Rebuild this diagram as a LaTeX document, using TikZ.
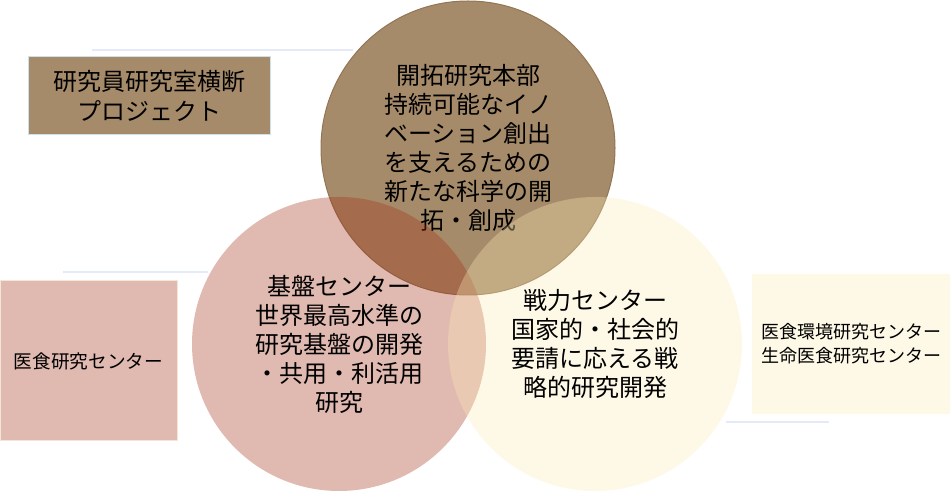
\documentclass[tikz,border=0pt]{standalone}
\usepackage{fontspec}
\setmainfont{Noto Sans CJK JP}
\usepackage{tikz}

\definecolor{honbu}{RGB}{166,139,106}
\definecolor{honbuline}{RGB}{146,118,84}
\definecolor{kiban}{RGB}{161,43,16}
\definecolor{senryaku}{RGB}{252,234,182}
\definecolor{kibanbox}{RGB}{224,185,176}
\definecolor{senryakubox}{RGB}{254,248,231}
\definecolor{paleblue}{RGB}{228,234,248}
\definecolor{boxline}{RGB}{205,225,235}

\begin{document}
\begin{tikzpicture}[x=0.75pt,y=0.75pt,yscale=-1,xscale=1,
    venn/.style={circle,inner sep=0pt,minimum size=220.5pt,align=center,text=black,text opacity=1,
        font=\fontsize{18}{21.75}\selectfont},
    unitbox/.style={rectangle,inner sep=0pt,align=center,text=black},
    trace/.style={draw=paleblue,line width=1.5pt}]
                %set diagram to 950 x 491
                \useasboundingbox (0,0) rectangle (950,491);

                %Straight Lines
                \coordinate (t1) at (92,50);
                \coordinate (t2) at (353,50);
                \draw [trace] (t1) -- (t2);
                %Straight Lines
                \coordinate (l1) at (63,272);
                \coordinate (l2) at (208,272);
                \draw [trace] (l1) -- (l2);
                %Straight Lines
                \coordinate (r1) at (726,422);
                \coordinate (r2) at (829,422);
                \draw [trace] (r1) -- (r2);

                %Shape: Rectangle
                \node [unitbox,fill=honbu,draw=boxline,line width=0.75pt,minimum width=181.5pt,minimum height=58.5pt,
                    font=\fontsize{18}{22.5}\selectfont] (project) at (149,96) {研究員研究室横断\\プロジェクト};
                %Shape: Rectangle
                \node [unitbox,fill=kibanbox,draw=senryakubox!70!kibanbox,line width=0.75pt,minimum width=132.75pt,minimum height=120pt,
                    font=\fontsize{14}{18}\selectfont] (ishoku) at (88.5,361) {医食研究センター};
                %Shape: Rectangle
                \node [unitbox,fill=senryakubox,minimum width=148.5pt,minimum height=105pt,
                    font=\fontsize{13.5}{18}\selectfont] (kankyo) at (851,344) {医食環境研究センター\\生命医食研究センター};

                %Shape: Circle
                \node [venn,fill=honbu,draw=honbuline,line width=0.75pt] (honbu) at (468,148)
                    {開拓研究本部\\持続可能なイノ\\ベーション創出\\を支えるための\\新たな科学の開\\拓・創成};
                %Shape: Circle
                \node [venn,fill=kiban,fill opacity=0.33] (kiban) at (339,344)
                    {基盤センター\\世界最高水準の\\研究基盤の開発\\・共用・利活用\\研究};
                %Shape: Circle
                \node [venn,fill=senryaku,fill opacity=0.33] (senryaku) at (595,344)
                    {戦力センター\\国家的・社会的\\要請に応える戦\\略的研究開発};

            \end{tikzpicture}
\end{document}
